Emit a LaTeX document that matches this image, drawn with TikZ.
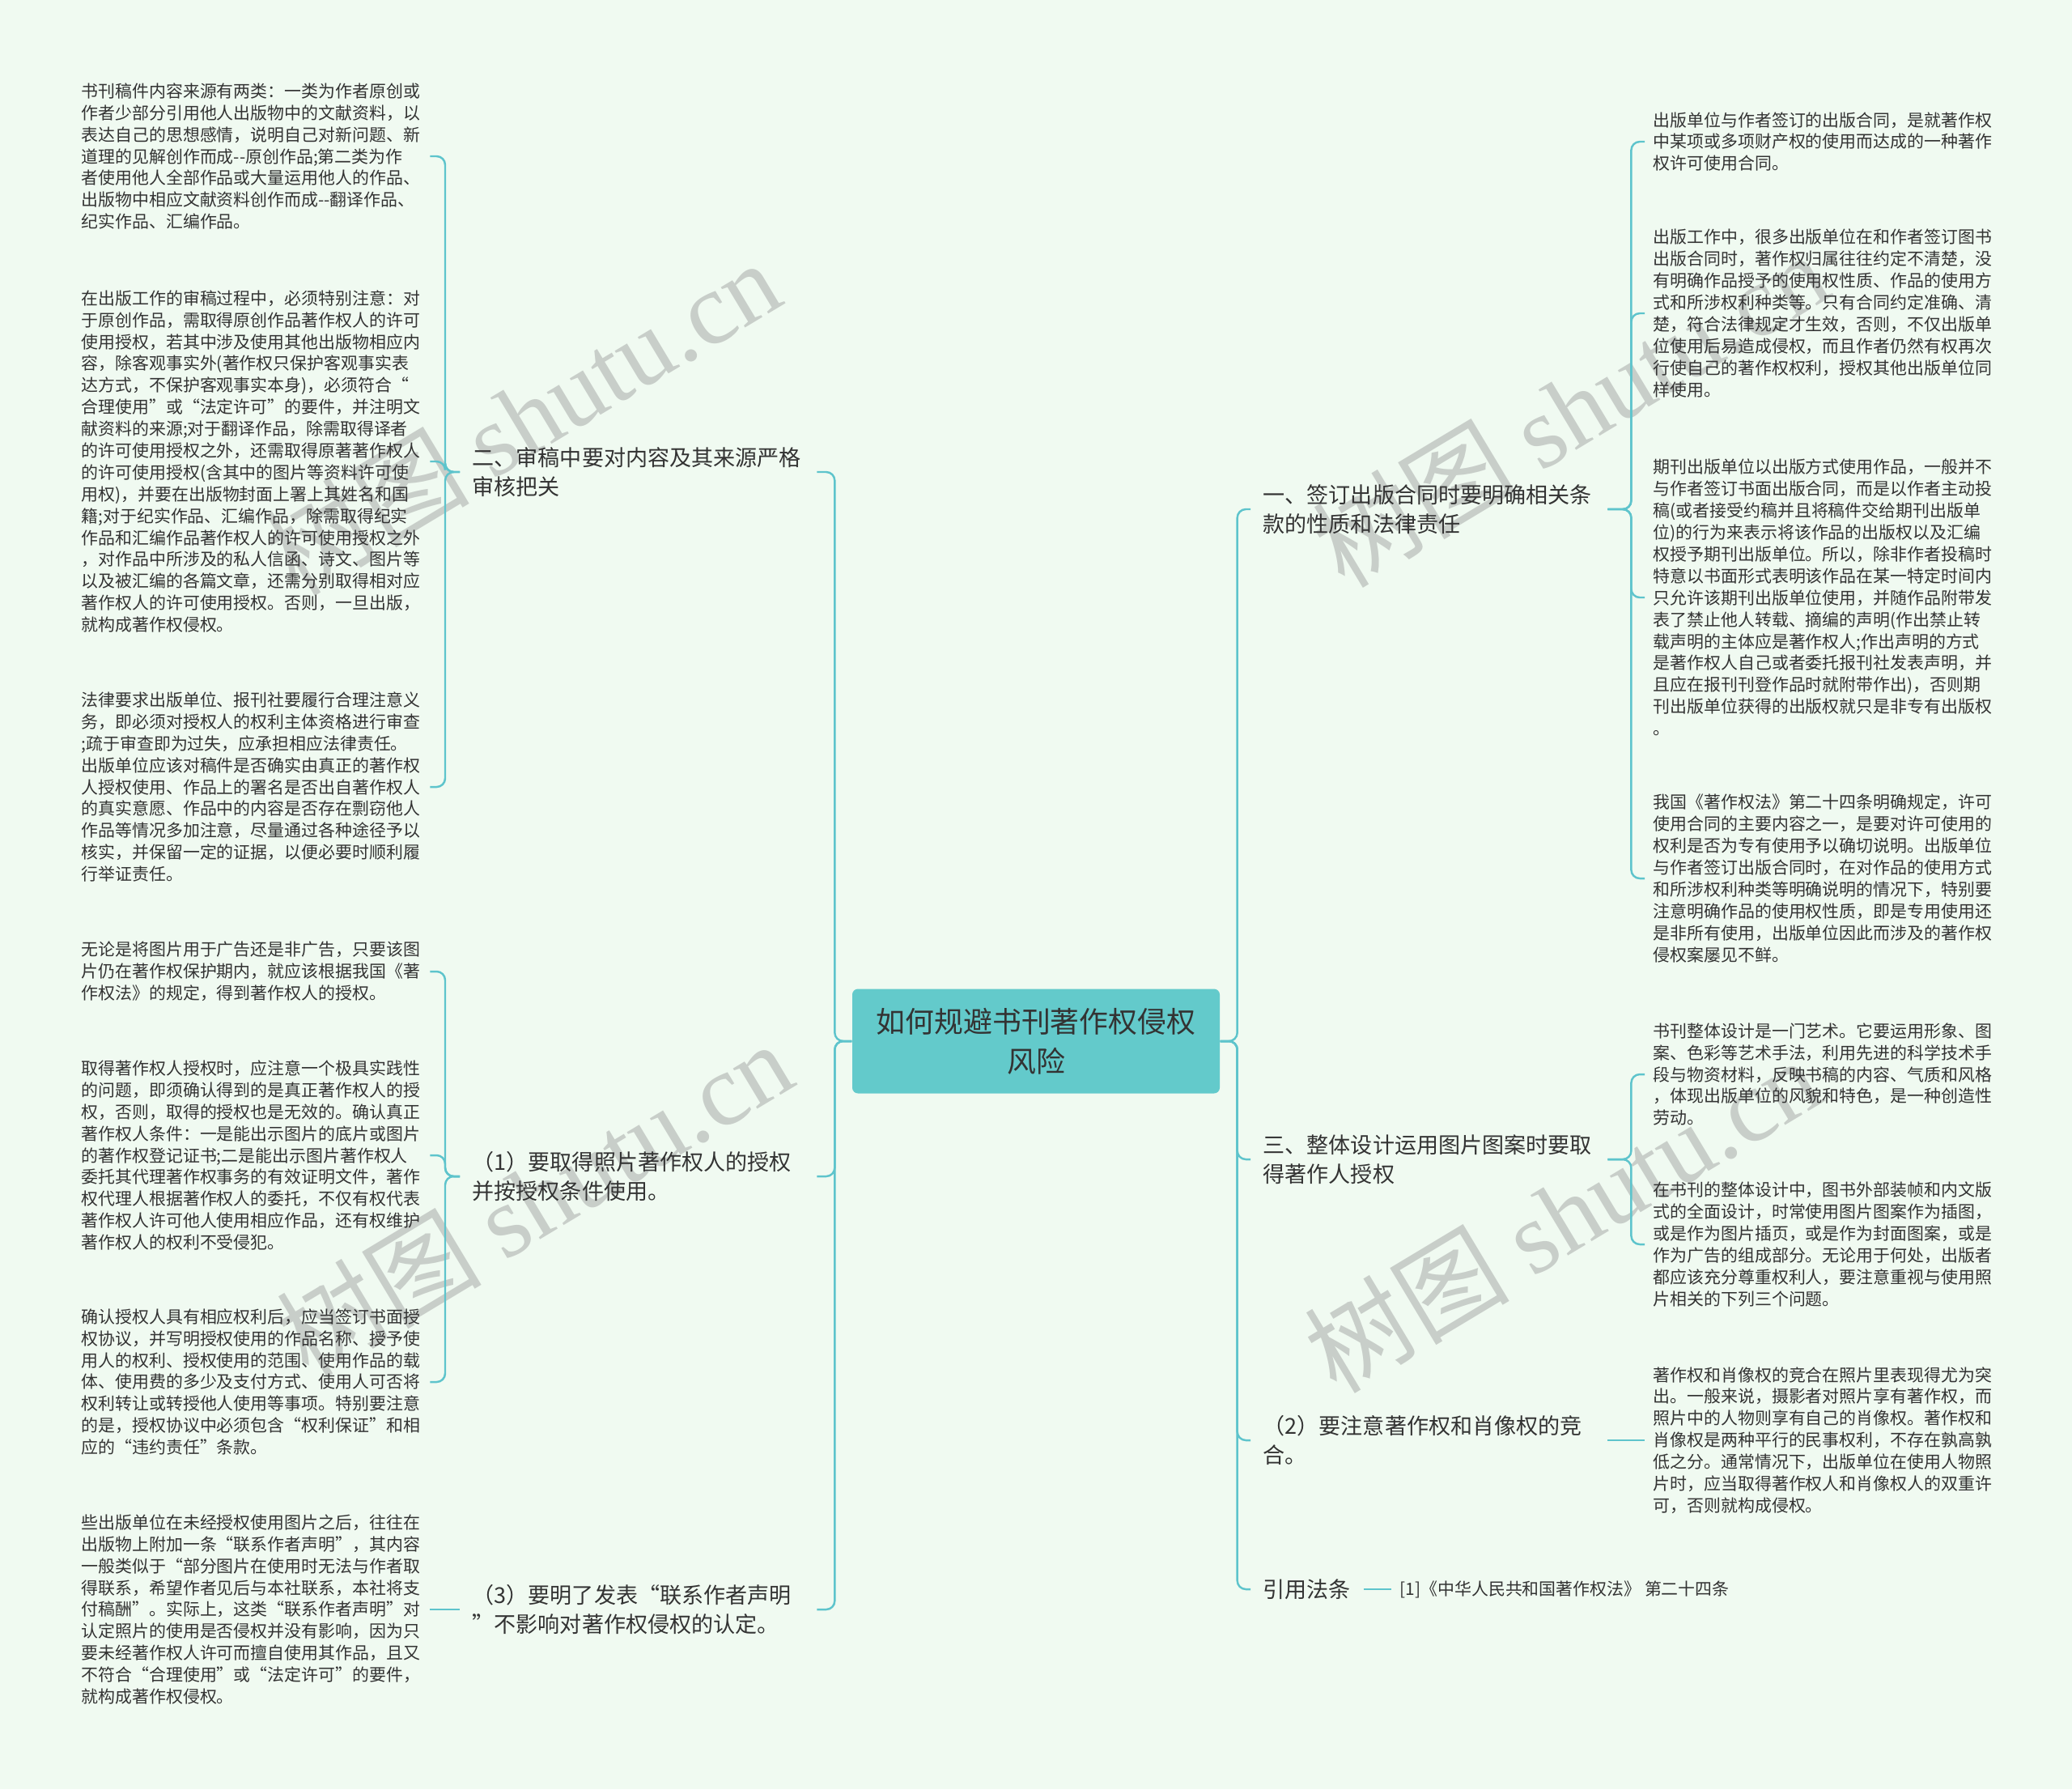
\documentclass[tikz,border=0pt]{standalone}
\usepackage{fontspec}
\setmainfont{Noto Sans CJK SC}
\newfontfamily\markfont{Liberation Serif}
\usetikzlibrary{positioning}
\definecolor{bgmint}{RGB}{240,250,241}
\definecolor{rootfill}{RGB}{99,202,203}
\definecolor{linkcol}{RGB}{94,196,204}
\definecolor{inkgray}{RGB}{51,51,51}
\definecolor{markgray}{RGB}{200,206,201}

\begin{document}
\begin{tikzpicture}[
  root/.style={fill=rootfill, rounded corners=2pt, minimum width=4.54cm, minimum height=1.29cm, align=center, text=inkgray, font=\fontsize{10.2pt}{13.9pt}\selectfont},
  branch/.style={anchor=west, align=left, text width=4.1cm, inner xsep=0.15cm, inner ysep=0pt, text=inkgray, font=\fontsize{7.7pt}{10.2pt}\selectfont},
  leaf/.style={anchor=west, align=left, text width=4.2cm, inner xsep=0.1cm, inner ysep=0pt, text=inkgray, font=\fontsize{5.95pt}{7.65pt}\selectfont},
  wmark/.style={rotate=31, text=markgray, inner sep=0pt, font=\fontsize{36pt}{40pt}\selectfont},
  link/.style={draw=linkcol, line width=0.7pt, rounded corners=3pt}]
  \fill[bgmint] (0,0) rectangle (25.6,-22.1);
  \useasboundingbox (0,0) rectangle (25.6,-22.1);
  \node[wmark] (w1) at (6.45,-5.15) {树图 {\markfont shutu.cn}};
  \node[wmark] (w2) at (19.40,-5.05) {树图 {\markfont shutu.cn}};
  \node[wmark] (w3) at (6.60,-14.80) {树图 {\markfont shutu.cn}};
  \node[wmark] (w4) at (19.30,-15.00) {树图 {\markfont shutu.cn}};

  \node[root] (root) at (12.80,-12.86) {如何规避书刊著作权侵权\\风险};

  \node[branch] (b2) at (5.68,-5.83) {二、审稿中要对内容及其来源严格\\审核把关};
  \node[branch] (b5) at (5.68,-14.53) {（1）要取得照片著作权人的授权\\并按授权条件使用。};
  \node[branch] (b6) at (5.68,-19.88) {（3）要明了发表“联系作者声明\\”不影响对著作权侵权的认定。};
  \node[branch] (b1) at (15.45,-6.29) {一、签订出版合同时要明确相关条\\款的性质和法律责任};
  \node[branch] (b3) at (15.45,-14.32) {三、整体设计运用图片图案时要取\\得著作人授权};
  \node[branch] (b4) at (15.45,-17.79) {（2）要注意著作权和肖像权的竞\\合。};
  \node[branch, text width=] (cite) at (15.45,-19.63) {引用法条};

  \node[leaf] (l1) at (0.90,-1.93) {书刊稿件内容来源有两类：一类为作者原创或\\作者少部分引用他人出版物中的文献资料，以\\表达自己的思想感情，说明自己对新问题、新\\道理的见解创作而成-{}-原创作品;第二类为作\\者使用他人全部作品或大量运用他人的作品、\\出版物中相应文献资料创作而成-{}-翻译作品、\\纪实作品、汇编作品。};
  \node[leaf] (l2) at (0.90,-5.70) {在出版工作的审稿过程中，必须特别注意：对\\于原创作品，需取得原创作品著作权人的许可\\使用授权，若其中涉及使用其他出版物相应内\\容，除客观事实外(著作权只保护客观事实表\\达方式，不保护客观事实本身)，必须符合“\\合理使用”或“法定许可”的要件，并注明文\\献资料的来源;对于翻译作品，除需取得译者\\的许可使用授权之外，还需取得原著著作权人\\的许可使用授权(含其中的图片等资料许可使\\用权)，并要在出版物封面上署上其姓名和国\\籍;对于纪实作品、汇编作品，除需取得纪实\\作品和汇编作品著作权人的许可使用授权之外\\，对作品中所涉及的私人信函、诗文、图片等\\以及被汇编的各篇文章，还需分别取得相对应\\著作权人的许可使用授权。否则，一旦出版，\\就构成著作权侵权。};
  \node[leaf] (l3) at (0.90,-9.72) {法律要求出版单位、报刊社要履行合理注意义\\务，即必须对授权人的权利主体资格进行审查\\;疏于审查即为过失，应承担相应法律责任。\\出版单位应该对稿件是否确实由真正的著作权\\人授权使用、作品上的署名是否出自著作权人\\的真实意愿、作品中的内容是否存在剽窃他人\\作品等情况多加注意，尽量通过各种途径予以\\核实，并保留一定的证据，以便必要时顺利履\\行举证责任。};
  \node[leaf] (l4) at (0.90,-12.00) {无论是将图片用于广告还是非广告，只要该图\\片仍在著作权保护期内，就应该根据我国《著\\作权法》的规定，得到著作权人的授权。};
  \node[leaf] (l5) at (0.90,-14.27) {取得著作权人授权时，应注意一个极具实践性\\的问题，即须确认得到的是真正著作权人的授\\权，否则，取得的授权也是无效的。确认真正\\著作权人条件：一是能出示图片的底片或图片\\的著作权登记证书;二是能出示图片著作权人\\委托其代理著作权事务的有效证明文件，著作\\权代理人根据著作权人的委托，不仅有权代表\\著作权人许可他人使用相应作品，还有权维护\\著作权人的权利不受侵犯。};
  \node[leaf] (l6) at (0.90,-17.07) {确认授权人具有相应权利后，应当签订书面授\\权协议，并写明授权使用的作品名称、授予使\\用人的权利、授权使用的范围、使用作品的载\\体、使用费的多少及支付方式、使用人可否将\\权利转让或转授他人使用等事项。特别要注意\\的是，授权协议中必须包含“权利保证”和相\\应的“违约责任”条款。};
  \node[leaf] (l7) at (0.90,-19.88) {些出版单位在未经授权使用图片之后，往往在\\出版物上附加一条“联系作者声明”，其内容\\一般类似于“部分图片在使用时无法与作者取\\得联系，希望作者见后与本社联系，本社将支\\付稿酬”。实际上，这类“联系作者声明”对\\认定照片的使用是否侵权并没有影响，因为只\\要未经著作权人许可而擅自使用其作品，且又\\不符合“合理使用”或“法定许可”的要件，\\就构成著作权侵权。};

  \node[leaf] (r1) at (20.32,-1.75) {出版单位与作者签订的出版合同，是就著作权\\中某项或多项财产权的使用而达成的一种著作\\权许可使用合同。};
  \node[leaf] (r2) at (20.32,-3.87) {出版工作中，很多出版单位在和作者签订图书\\出版合同时，著作权归属往往约定不清楚，没\\有明确作品授予的使用权性质、作品的使用方\\式和所涉权利种类等。只有合同约定准确、清\\楚，符合法律规定才生效，否则，不仅出版单\\位使用后易造成侵权，而且作者仍然有权再次\\行使自己的著作权权利，授权其他出版单位同\\样使用。};
  \node[leaf] (r3) at (20.32,-7.38) {期刊出版单位以出版方式使用作品，一般并不\\与作者签订书面出版合同，而是以作者主动投\\稿(或者接受约稿并且将稿件交给期刊出版单\\位)的行为来表示将该作品的出版权以及汇编\\权授予期刊出版单位。所以，除非作者投稿时\\特意以书面形式表明该作品在某一特定时间内\\只允许该期刊出版单位使用，并随作品附带发\\表了禁止他人转载、摘编的声明(作出禁止转\\载声明的主体应是著作权人;作出声明的方式\\是著作权人自己或者委托报刊社发表声明，并\\且应在报刊刊登作品时就附带作出)，否则期\\刊出版单位获得的出版权就只是非专有出版权\\。};
  \node[leaf] (r4) at (20.32,-10.85) {我国《著作权法》第二十四条明确规定，许可\\使用合同的主要内容之一，是要对许可使用的\\权利是否为专有使用予以确切说明。出版单位\\与作者签订出版合同时，在对作品的使用方式\\和所涉权利种类等明确说明的情况下，特别要\\注意明确作品的使用权性质，即是专用使用还\\是非所有使用，出版单位因此而涉及的著作权\\侵权案屡见不鲜。};
  \node[leaf] (r5) at (20.32,-13.27) {书刊整体设计是一门艺术。它要运用形象、图\\案、色彩等艺术手法，利用先进的科学技术手\\段与物资材料，反映书稿的内容、气质和风格\\，体现出版单位的风貌和特色，是一种创造性\\劳动。};
  \node[leaf] (r6) at (20.32,-15.37) {在书刊的整体设计中，图书外部装帧和内文版\\式的全面设计，时常使用图片图案作为插图，\\或是作为图片插页，或是作为封面图案，或是\\作为广告的组成部分。无论用于何处，出版者\\都应该充分尊重权利人，要注意重视与使用照\\片相关的下列三个问题。};
  \node[leaf] (r7) at (20.32,-17.79) {著作权和肖像权的竞合在照片里表现得尤为突\\出。一般来说，摄影者对照片享有著作权，而\\照片中的人物则享有自己的肖像权。著作权和\\肖像权是两种平行的民事权利，不存在孰高孰\\低之分。通常情况下，出版单位在使用人物照\\片时，应当取得著作权人和肖像权人的双重许\\可，否则就构成侵权。};
  \node[leaf, text width=] (ref) at (17.19,-19.63) {[1]《中华人民共和国著作权法》 第二十四条};

  \foreach \b in {b2,b5,b6}
    \draw[link] (root.west) -- ++(-0.21,0) |- (\b.east);
  \foreach \b in {b1,b3,b4,cite}
    \draw[link] (root.east) -- ++(0.21,0) |- (\b.west);
  \foreach \c in {l1,l2,l3}
    \draw[link] (b2.west) -- ++(-0.18,0) |- (\c.east);
  \foreach \c in {l4,l5,l6}
    \draw[link] (b5.west) -- ++(-0.18,0) |- (\c.east);
  \draw[link] (b6.west) -- (l7.east);
  \foreach \c in {r1,r2,r3,r4}
    \draw[link] (b1.east) -- ++(0.29,0) |- (\c.west);
  \foreach \c in {r5,r6}
    \draw[link] (b3.east) -- ++(0.29,0) |- (\c.west);
  \draw[link] (b4.east) -- (r7.west);
  \draw[link] (cite.east) -- (ref.west);
\end{tikzpicture}
\end{document}
